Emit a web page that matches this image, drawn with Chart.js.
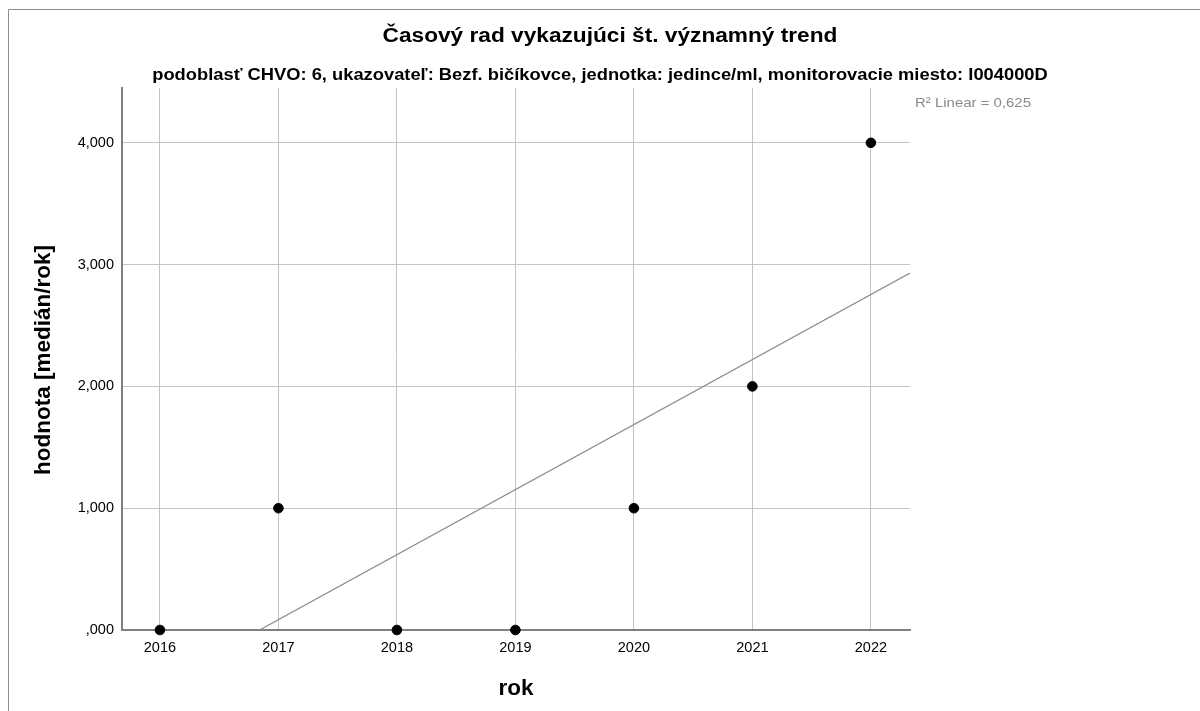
<!DOCTYPE html>
<html>
<head>
<meta charset="utf-8">
<script src="https://cdn.jsdelivr.net/npm/chart.js@4"></script>
<style>
  html, body { margin: 0; padding: 0; background: #fff; }
  #wrap { width: 1200px; height: 711px; }
</style>
</head>
<body>
<div id="wrap"><canvas id="trendChart"></canvas></div>
<script>
// data
const years = [2016, 2017, 2018, 2019, 2020, 2021, 2022];
const medians = [0, 1, 0, 0, 1, 2, 4];
// fitted linear trend, two ends as seen in the picture
const trendYears = [2015.68, 2022.33];
const trendValues = [-0.62, 2.93];
const yTicks = [0, 1, 2, 3, 4];
const chartTitle = "Časový rad vykazujúci št. významný trend";
const chartSubtitle = "podoblasť CHVO: 6, ukazovateľ: Bezf. bičíkovce, jednotka: jedince/ml, monitorovacie miesto: I004000D";
const r2Label = "R² Linear = 0,625";
const xTitle = "rok";
const yTitle = "hodnota [medián/rok]";

const FONT = "'Liberation Sans', Arial, sans-serif";

function fmtVal(v) {
  let s = v.toFixed(3).replace(".", ",");
  if (s.startsWith("0,")) s = s.slice(1);
  return s;
}

// centred text fitted to the width it has in the picture;
// the lettering there is a little wide, so it is stretched sideways by `stretch`
function fitText(ctx, text, cx, cy, width, weight, color, angle, stretch) {
  stretch = stretch || 1;
  ctx.save();
  ctx.font = weight + " 100px " + FONT;
  const size = (100 * width) / (ctx.measureText(text).width * stretch);
  ctx.font = weight + " " + size.toFixed(2) + "px " + FONT;
  ctx.fillStyle = color;
  ctx.textAlign = "center";
  ctx.textBaseline = "middle";
  ctx.translate(cx, cy);
  if (angle) ctx.rotate(angle);
  ctx.scale(stretch, 1);
  ctx.fillText(text, 0, 0);
  ctx.restore();
}

const decor = {
  id: "decor",
  afterDraw(chart) {
    const ctx = chart.ctx;
    const area = chart.chartArea;
    ctx.save();
    // outer frame
    ctx.strokeStyle = "#8c8c8c";
    ctx.lineWidth = 1;
    ctx.beginPath();
    ctx.moveTo(8.5, 711);
    ctx.lineTo(8.5, 9.5);
    ctx.lineTo(1200, 9.5);
    ctx.stroke();
    ctx.restore();

    fitText(ctx, chartTitle, 610, 36, 455, "bold", "#000", 0, 1.1);
    fitText(ctx, chartSubtitle, 600, 75, 896, "bold", "#000", 0, 1.1);
    fitText(ctx, r2Label, area.right + 5 + 58, 103, 116, "normal", "#8a8a8a", 0, 1.1);
    fitText(ctx, xTitle, 516, 689, 35, "bold", "#000", 0, 1.05);
    fitText(ctx, yTitle, 44, 360, 230, "bold", "#000", -Math.PI / 2, 1.05);
  }
};

const trendPoints = trendYears.map((x, i) => ({ x: x, y: trendValues[i] }));
const dataPoints = years.map((x, i) => ({ x: x, y: medians[i] }));

new Chart(document.getElementById("trendChart"), {
  type: "scatter",
  data: {
    datasets: [
      {
        type: "line",
        data: trendPoints,
        borderColor: "#8a8a8a",
        borderWidth: 1.2,
        pointRadius: 0,
        fill: false,
        order: 2,
      },
      {
        data: dataPoints,
        backgroundColor: "#000",
        borderColor: "#000",
        pointRadius: 4.8,
        pointHoverRadius: 4.8,
        order: 1,
        clip: false,
      },
    ],
  },
  options: {
    responsive: true,
    maintainAspectRatio: false,
    animation: false,
    layout: { padding: { top: 88, right: 290, bottom: 0, left: 8 } },
    plugins: {
      legend: { display: false },
      tooltip: { enabled: false },
    },
    scales: {
      x: {
        type: "linear",
        min: 2015.68,
        max: 2022.33,
        afterFit(scale) { scale.height = 711 - 630; },
        ticks: {
          stepSize: 1,
          includeBounds: false,
          color: "#000",
          font: { family: FONT, size: 14.5 },
          padding: 9,
          callback: (v) => String(v),
        },
        grid: { color: "#c4c4c4", lineWidth: 1, drawTicks: false },
        border: { color: "#808080", width: 2 },
      },
      y: {
        min: 0,
        max: 4.45,
        afterFit(scale) { scale.width = 122 - 8; },
        afterBuildTicks(scale) { scale.ticks = yTicks.map((v) => ({ value: v })); },
        ticks: {
          color: "#000",
          font: { family: FONT, size: 14.5 },
          padding: 8,
          callback: (v) => fmtVal(v),
        },
        grid: { color: "#c4c4c4", lineWidth: 1, drawTicks: false },
        border: { color: "#808080", width: 2 },
      },
    },
  },
  plugins: [decor],
});
</script>
</body>
</html>
